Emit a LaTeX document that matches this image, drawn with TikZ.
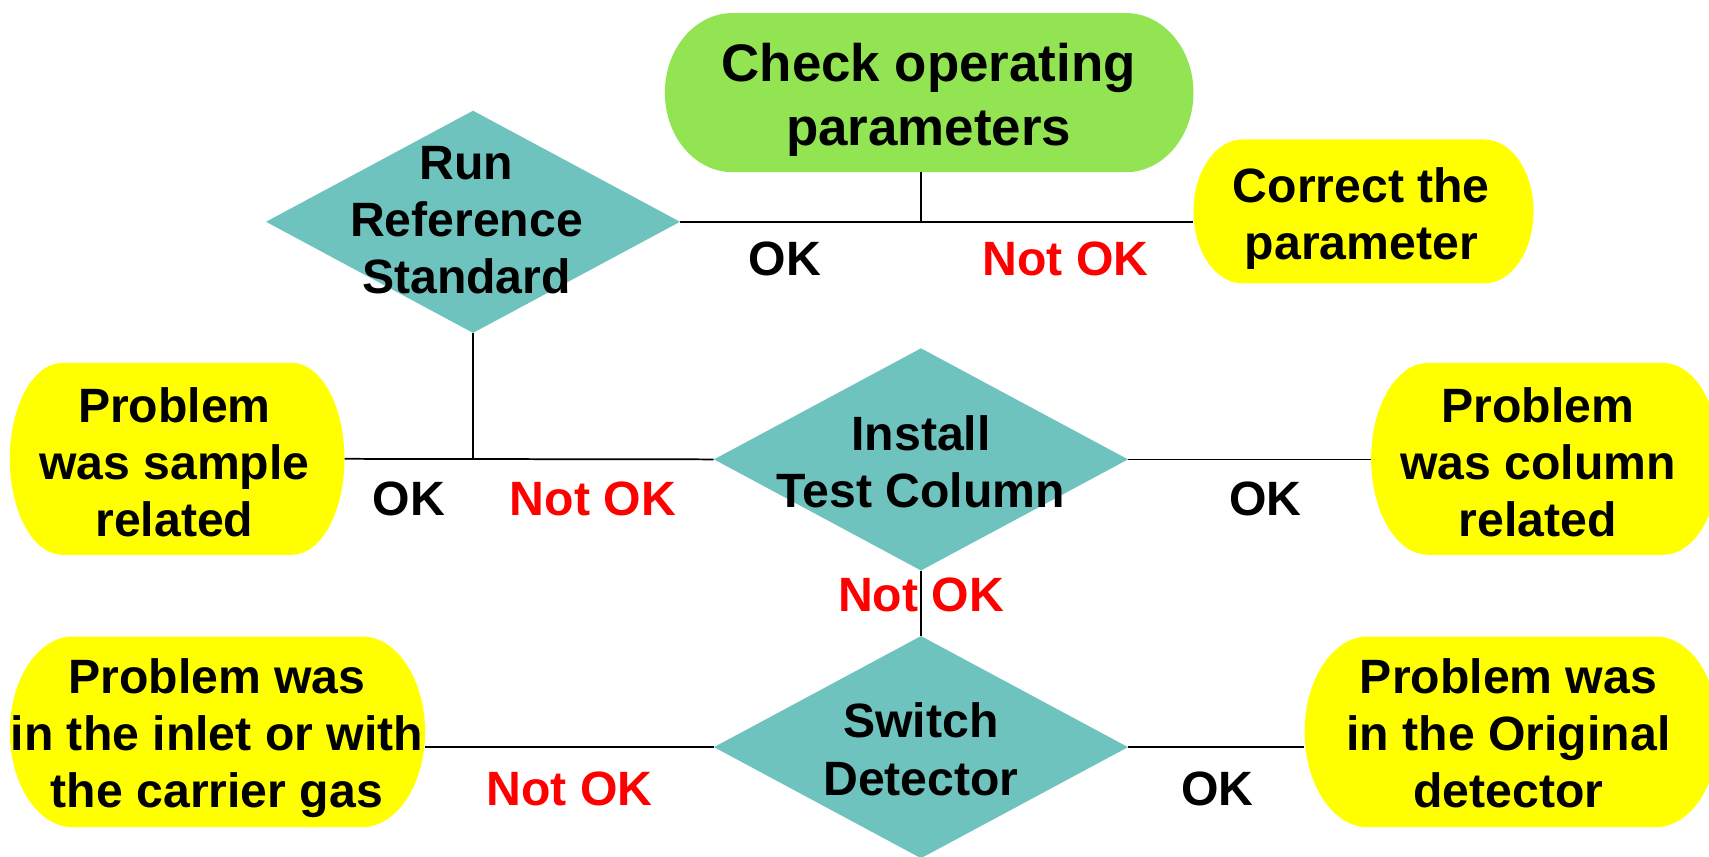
\documentclass[tikz,border=0pt]{standalone}
\usepackage{fontspec}
\setmainfont{Liberation Sans}
\usetikzlibrary{shapes.geometric}
\definecolor{chkgreen}{RGB}{146,228,82}
\definecolor{decteal}{RGB}{111,195,190}
\definecolor{ansyellow}{RGB}{255,255,0}
\definecolor{notred}{RGB}{255,0,0}
% #1 colour, #2 cx, #3 cy, #4 half width, #5 half height, #6 end radius
\newcommand{\capsulefill}[6]{%
  \fill[#1] ({#2-#4+#6},{#3+#5}) -- ({#2+#4-#6},{#3+#5})
    arc[start angle=90,end angle=-90,x radius=#6pt,y radius=#5pt]
    -- ({#2-#4+#6},{#3-#5})
    arc[start angle=270,end angle=90,x radius=#6pt,y radius=#5pt] -- cycle;}
\tikzset{
  boxtext/.style={align=center, inner sep=0pt, font=\bfseries\fontsize{44.2}{52.5}\selectfont},
  bigtext/.style={align=center, inner sep=0pt, font=\bfseries\fontsize{48.5}{58.5}\selectfont},
  decision/.style={diamond, fill=decteal, minimum width=380pt, minimum height=204pt, inner sep=0pt},
  frame/.style={rectangle, inner sep=0pt},
  oklabel/.style={inner sep=0pt, font=\bfseries\fontsize{44.2}{52.5}\selectfont},
  notlabel/.style={oklabel, text=notred},
  conn/.style={line width=1.6pt, black},
}
\begin{document}
\begin{tikzpicture}[x=1pt,y=1pt]
\useasboundingbox (0,0) rectangle (1568,786);
% capsule fills
\capsulefill{chkgreen}{852.5}{701}{242.5}{73}{62}
\capsulefill{ansyellow}{1251}{592}{156}{66}{45}
\capsulefill{ansyellow}{162.5}{365}{153.5}{88}{48}
\capsulefill{ansyellow}{1418}{365}{160}{88}{52}
\capsulefill{ansyellow}{199.5}{114.5}{190.5}{87.5}{58}
\capsulefill{ansyellow}{1387}{114.5}{190}{87.5}{58}
% frame nodes (anchors of the capsules)
\node[frame, minimum width=485pt, minimum height=146pt] (check) at (852.5,701) {};
\node[frame, minimum width=312pt, minimum height=132pt] (correct) at (1251,592) {};
\node[frame, minimum width=307pt, minimum height=176pt] (sample) at (162.5,365) {};
\node[frame, minimum width=320pt, minimum height=176pt] (column) at (1418,365) {};
\node[frame, minimum width=381pt, minimum height=175pt] (inlet) at (199.5,114.5) {};
\node[frame, minimum width=380pt, minimum height=175pt] (orig) at (1387,114.5) {};
% decisions
\node[decision] (run) at (434,582.5) {};
\node[decision] (inst) at (845,364.5) {};
\node[decision] (sw) at (845,100.5) {};
% texts
\node[bigtext] (check-t) at (852,694.5) {Check operating\\parameters};
\node[boxtext] (correct-t) at (1249,585.5) {Correct the\\parameter};
\node[boxtext] (sample-t) at (160,362) {Problem\\was sample\\related};
\node[boxtext] (column-t) at (1411,362) {Problem\\was column\\related};
\node[boxtext] (inlet-t) at (199,108.5) {Problem was\\in the inlet or with\\the carrier gas};
\node[boxtext] (orig-t) at (1384,113) {Problem was\\in the Original\\detector};
\node[boxtext] (run-t) at (428,584) {Run\\Reference\\Standard};
\node[boxtext] (inst-t) at (845,362) {Install\\Test Column};
\node[boxtext] (sw-t) at (845,98.5) {Switch\\Detector};
% connectors
\coordinate (j1) at (inst.north |- run.east);
\draw[conn] (run.east) -- (run.east -| correct.west);
\draw[conn] (j1 |- check.south) -- (j1);
\draw[conn] (run.south) -- (run.south |- inst.west);
\draw[conn] (sample.east) -- (inst.west);
\draw[conn] (inst.east) -- (inst.east -| column.west);
\draw[conn] (inst.south) -- (sw.north);
\draw[conn] (sw.west) -- (sw.west -| inlet.east);
\draw[conn] (sw.east) -- (sw.east -| orig.west);
% labels
\node[oklabel] (ok1) at (720,548) {OK};
\node[notlabel] (nok1) at (977.5,548) {Not OK};
\node[oklabel] (ok2) at (375,328) {OK};
\node[notlabel] (nok2) at (544,328) {Not OK};
\node[oklabel] (ok3) at (1161,328) {OK};
\node[notlabel] (nok3) at (845,240) {Not OK};
\node[notlabel] (nok4) at (522.5,62) {Not OK};
\node[oklabel] (ok4) at (1117,62) {OK};
\end{tikzpicture}
\end{document}
